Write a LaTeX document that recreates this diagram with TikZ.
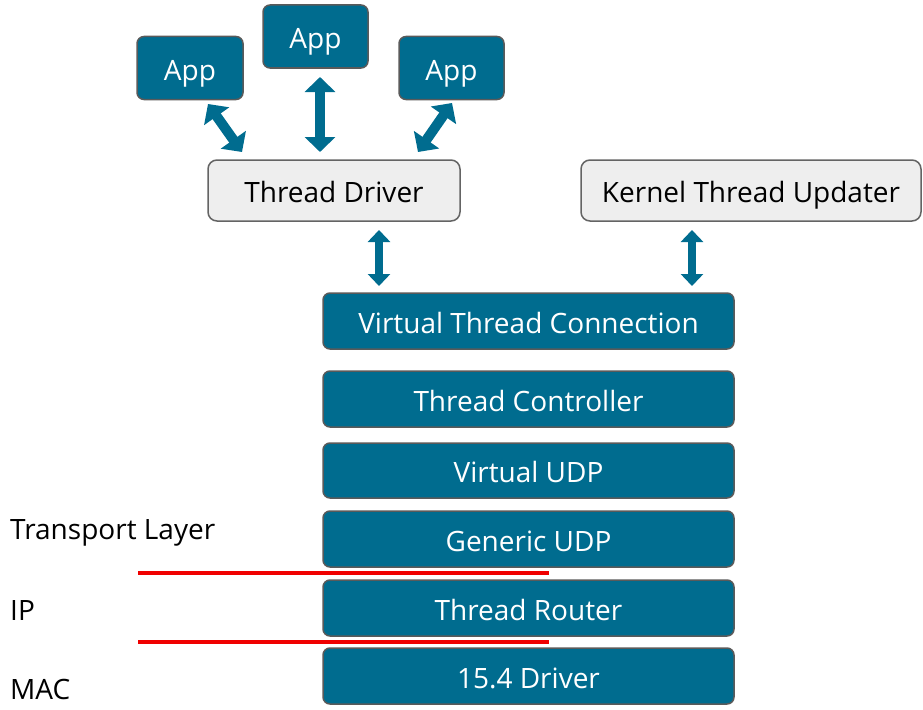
\documentclass[tikz,border=0pt]{standalone}
\usepackage{fontspec}
\setmainfont{Open Sans}
\usetikzlibrary{arrows.meta}
\definecolor{tblue}{RGB}{0,108,143}
\definecolor{tborder}{RGB}{90,90,90}
\definecolor{gfill}{RGB}{238,238,238}
\definecolor{gborder}{RGB}{100,100,100}
\definecolor{lred}{RGB}{240,0,0}
\tikzset{
  bluebox/.style={draw=tborder, line width=1.5pt, fill=tblue, rounded corners=7pt, text=white, font=\fontsize{28}{33}\selectfont, text height=24pt, text depth=0pt},
  graybox/.style={draw=gborder, line width=1.5pt, fill=gfill, rounded corners=9pt, text=black, font=\fontsize{28}{33}\selectfont, text height=24pt, text depth=0pt},
  bigarrow/.style={draw=tblue, line width=10pt, {Triangle[width=30pt,length=15pt]}-{Triangle[width=30pt,length=15pt]}},
  smallarrow/.style={draw=tblue, line width=7.5pt, {Triangle[width=22pt,length=12pt]}-{Triangle[width=22pt,length=12pt]}},
  redline/.style={draw=lred, line width=4pt},
  layerlabel/.style={anchor=west, inner sep=0pt, font=\fontsize{28}{33}\selectfont, text height=20pt, text depth=0pt}
}
\begin{document}
\begin{tikzpicture}[x=1pt,y=-1pt]
\useasboundingbox (0,0) rectangle (923,709);
% apps
\node[bluebox, minimum width=106pt, minimum height=63pt] (app1) at (190,68) {App};
\node[bluebox, minimum width=105pt, minimum height=63pt] (app2) at (315.5,36.5) {App};
\node[bluebox, minimum width=105pt, minimum height=63pt] (app3) at (451.5,68) {App};
% gray boxes
\node[graybox, minimum width=252pt, minimum height=61pt] (drv) at (334,190.5) {Thread Driver};
\node[graybox, minimum width=340pt, minimum height=61pt] (ktu) at (751,190.5) {Kernel Thread Updater};
% stack
\node[bluebox, minimum width=411pt, minimum height=56pt] (vtc) at (528.5,321) {Virtual Thread Connection};
\node[bluebox, minimum width=411pt, minimum height=56pt] (tc) at (528.5,399) {Thread Controller};
\node[bluebox, minimum width=411pt, minimum height=55pt] (vudp) at (528.5,470.5) {Virtual UDP};
\node[bluebox, minimum width=411pt, minimum height=56pt] (gudp) at (528.5,539) {Generic UDP};
\node[bluebox, minimum width=411pt, minimum height=56pt] (tr) at (528.5,608) {Thread Router};
\node[bluebox, minimum width=411pt, minimum height=56pt] (d154) at (528.5,676) {15.4 Driver};
% arrow endpoints
\coordinate (a1t) at (208,104);
\coordinate (a1b) at (242,152);
\coordinate (a2t) at (320,77);
\coordinate (a2b) at (320,152);
\coordinate (a3t) at (452,103);
\coordinate (a3b) at (418,152);
\coordinate (a4t) at (379,230);
\coordinate (a4b) at (379,286);
\coordinate (a5t) at (692,230);
\coordinate (a5b) at (692,286);
\draw[bigarrow] (a1t) -- (a1b);
\draw[bigarrow] (a2t) -- (a2b);
\draw[bigarrow] (a3t) -- (a3b);
\draw[smallarrow] (a4t) -- (a4b);
\draw[smallarrow] (a5t) -- (a5b);
% red lines
\coordinate (r1a) at (138,573);
\coordinate (r1b) at (549,573);
\coordinate (r2a) at (138,642);
\coordinate (r2b) at (549,642);
\draw[redline] (r1a) -- (r1b);
\draw[redline] (r2a) -- (r2b);
% labels
\node[layerlabel] (lt) at (10,529) {Transport Layer};
\node[layerlabel] (lip) at (10,610) {IP};
\node[layerlabel] (lmac) at (10,689.5) {MAC};
\end{tikzpicture}
\end{document}
